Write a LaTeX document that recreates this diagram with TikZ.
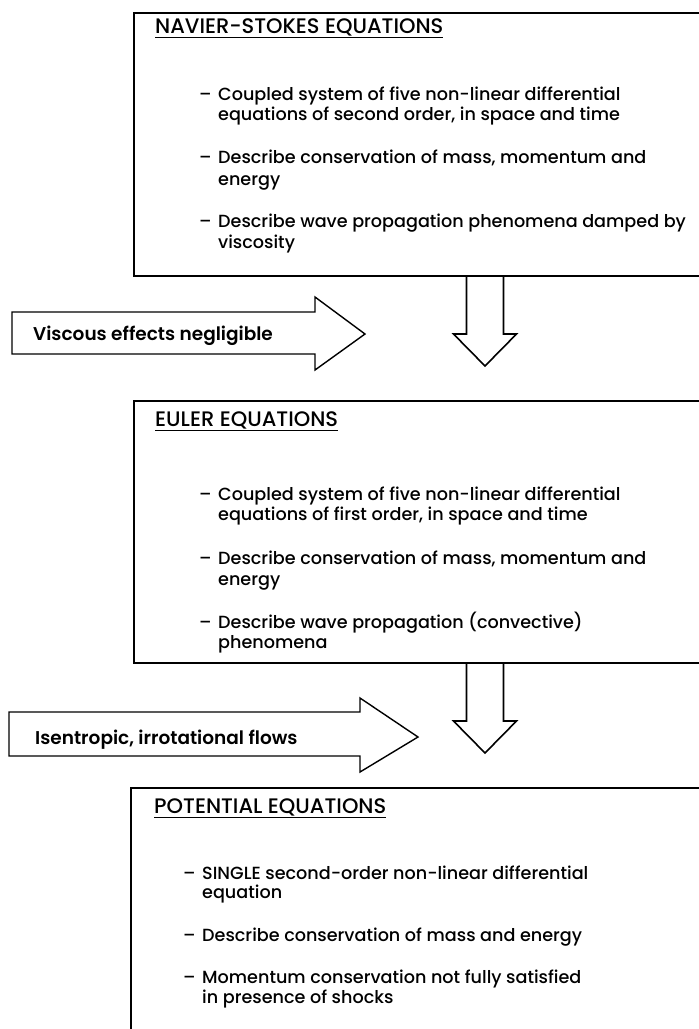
\documentclass[tikz,border=0pt]{standalone}
\usepackage{fontspec}
\setmainfont{Poppins}[UprightFont=* Medium,BoldFont=* SemiBold]
\usetikzlibrary{positioning}

\begin{document}
\begin{tikzpicture}[x=1pt,y=-1pt,
  every node/.style={font=\fontsize{17.6}{20}\selectfont,inner sep=0pt},
  eqbox/.style={draw,line width=2pt,anchor=north west,minimum width=640pt},
  eqtitle/.style={anchor=base west,font=\fontsize{21}{24}\selectfont},
  eqline/.style={anchor=base west},
  fat/.style={draw,line width=1.6pt,line join=miter},
  hint/.style={anchor=base west,font=\fontsize{18.5}{20}\selectfont\bfseries}]
  \clip (0,0) rectangle (699,1029);
  \fill[white] (0,0) rectangle (699,1029);

  % the three equation boxes, open to the right
  \node[eqbox,minimum height=263pt] (ns) at (133,12) {};
  \node[eqbox,minimum height=262pt] (eu) at (133,400) {};
  \node[eqbox,minimum height=300pt] (po) at (130,787) {};

  \node[eqtitle] (nst) at (155,33) {\underline{NAVIER-STOKES EQUATIONS}};
  \node[eqtitle] (eut) at (155,426) {\underline{EULER EQUATIONS}};
  \node[eqtitle] (pot) at (154,813) {\underline{POTENTIAL EQUATIONS}};

  \foreach \y/\t [count=\i] in {100/{Coupled system of five non-linear differential},
      120/{equations of second order, in space and time},
      163/{Describe conservation of mass, momentum and},
      185/{energy},
      227/{Describe wave propagation phenomena damped by},
      248/{viscosity}}
    \node[eqline] (ns\i) at (218,\y) {\t};
  \foreach \y [count=\i] in {100,163,227}
    \node[eqline] (nsd\i) at (199,\y) {--};

  \foreach \y/\t [count=\i] in {500/{Coupled system of five non-linear differential},
      520/{equations of first order, in space and time},
      564/{Describe conservation of mass, momentum and},
      585/{energy},
      628/{Describe wave propagation (convective)},
      648/{phenomena}}
    \node[eqline] (eu\i) at (218,\y) {\t};
  \foreach \y [count=\i] in {500,564,628}
    \node[eqline] (eud\i) at (199,\y) {--};

  \foreach \y/\t [count=\i] in {879/{SINGLE second-order non-linear differential},
      898/{equation},
      941/{Describe conservation of mass and energy},
      983/{Momentum conservation not fully satisfied},
      1003/{in presence of shocks}}
    \node[eqline] (po\i) at (202,\y) {\t};
  \foreach \y [count=\i] in {879,941,983}
    \node[eqline] (pod\i) at (183,\y) {--};

  % hollow arrows going down from one box to the next
  \coordinate (ax) at (485,0);
  \coordinate (d1) at (ax |- ns.south);
  \coordinate (d2) at (ax |- eu.south);
  \foreach \d in {d1,d2}
    \draw[fat] (\d) ++(-18.5,0) -- ++(0,57) -- ++(-13,0) -- ++(31.5,32)
      -- ++(31.5,-32) -- ++(-13,0) -- ++(0,-57);

  % side arrows with the assumptions
  \node[hint] (visc) at (33,340) {Viscous effects negligible};
  \draw[fat,line width=1.4pt] (12,312) -- (315,312) -- (315,297) -- (365,334)
    -- (315,370) -- (315,354) -- (12,354) -- cycle;
  \node[hint] (isen) at (35,744) {Isentropic, irrotational flows};
  \draw[fat,line width=1.4pt] (9,712) -- (360,712) -- (360,698) -- (418,737)
    -- (360,772) -- (360,756) -- (9,756) -- cycle;
\end{tikzpicture}
\end{document}
